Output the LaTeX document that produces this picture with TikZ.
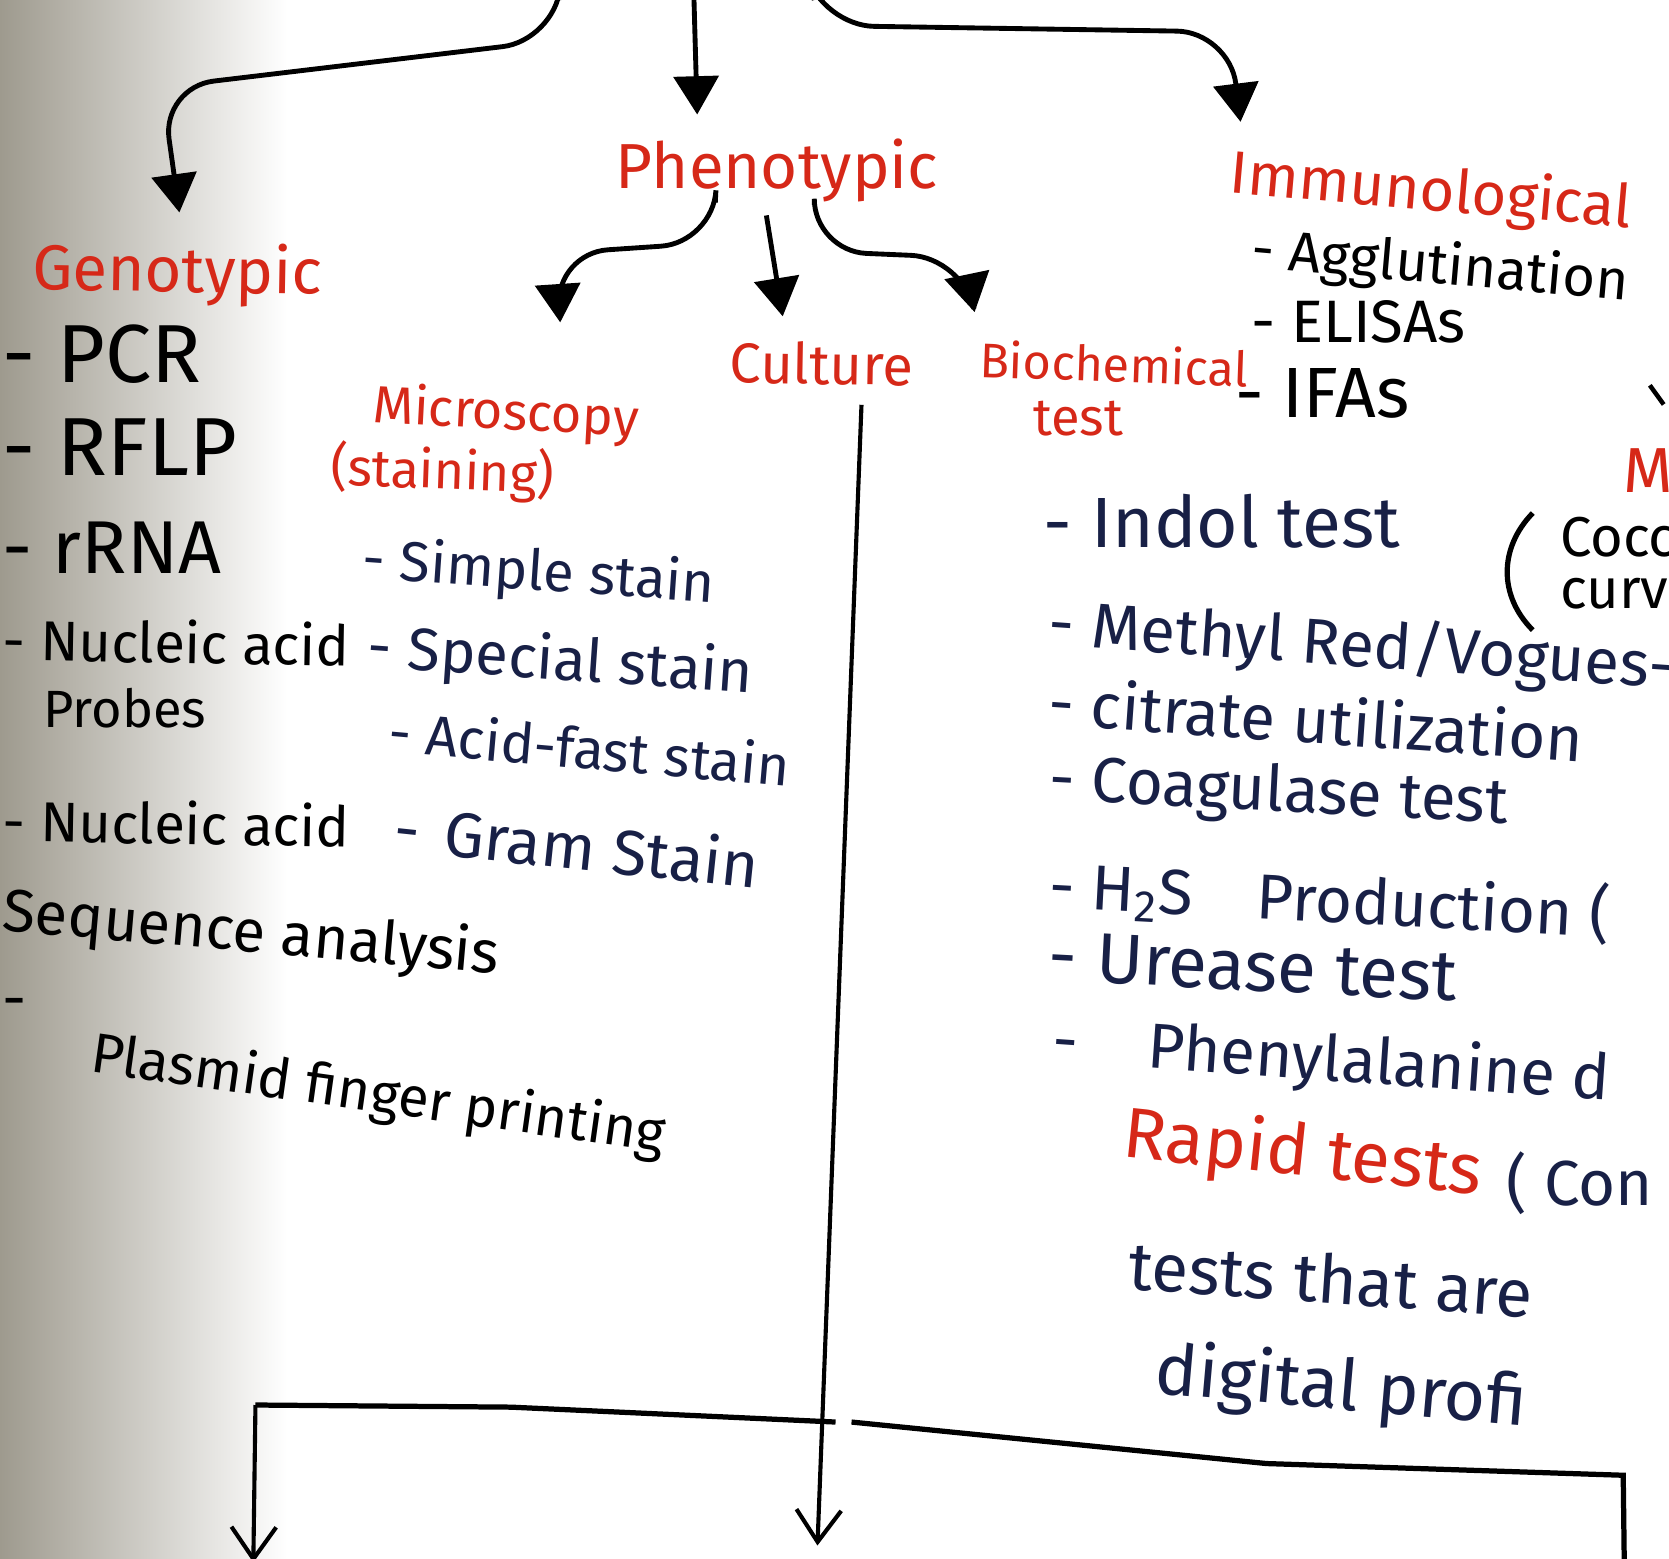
\documentclass[tikz,border=0pt]{standalone}
\usepackage{fontspec}
\setmainfont{Fira Sans}
\usetikzlibrary{arrows.meta,calc,positioning}

\definecolor{inkred}{RGB}{214,40,24}
\definecolor{inknavy}{RGB}{24,32,70}
\definecolor{paperedge}{RGB}{158,154,142}

\begin{document}
\begin{tikzpicture}[
    x=0.01cm, y=-0.01cm,
    every node/.style={inner sep=0pt, anchor=west},
    fs/.style={font=\fontsize{#1}{#1}\selectfont},
    head/.style={text=inkred},
    ink/.style={text=black},
    navy/.style={text=inknavy},
    bigarrow/.style={-{Triangle[width=0.42cm,length=0.36cm]}, line width=1.3pt, rounded corners=14pt},
    openarrow/.style={-{Straight Barb[width=0.42cm,length=0.3cm]}, line width=1.1pt}
]
    \useasboundingbox (0,0) rectangle (1568,1464);
    \clip (0,0) rectangle (1568,1464);
    % paper edge
    \shade[left color=paperedge, middle color=paperedge!30, right color=white] (0,0) rectangle (270,1464);

    % main branches
    \node[head, fs=17] (pheno) at (578,160) {Phenotypic};
    \node[head, fs=16, rotate=-5] (immu) at (1155,165) {Immunological};
    \node[head, fs=17, rotate=-1] (geno) at (30,255) {Genotypic};

    % phenotypic branches
    \node[head, fs=14, rotate=-3] (micro) at (350,383) {Microscopy};
    \node[head, fs=14, rotate=-2] (stain) at (310,440) {(staining)};
    \node[head, fs=15, rotate=-1] (cult) at (685,340) {Culture};
    \node[head, fs=13, rotate=-2] (bio) at (920,337) {Biochemical};
    \node[head, fs=14] (biotest) at (970,393) {test};

    % genotypic list
    \node[ink, fs=22] (pcr) at (2,333) {- PCR};
    \node[ink, fs=22] (rflp) at (2,420) {- RFLP};
    \node[ink, fs=20] (rrna) at (2,515) {- rRNA};
    \node[ink, fs=15, rotate=-1] (nap) at (2,600) {- Nucleic acid};
    \node[ink, fs=14] (probes) at (40,665) {Probes};
    \node[ink, fs=15, rotate=-1] (nas) at (2,770) {- Nucleic acid};
    \node[ink, fs=16, rotate=-5] (seq) at (2,858) {Sequence analysis};
    \node[ink, fs=16] (pdash) at (2,948) {-};
    \node[ink, fs=15, rotate=-8] (plas) at (85,992) {Plasmid finger printing};

    % microscopy list
    \node[navy, fs=15, rotate=-4] (simple) at (340,528) {- Simple stain};
    \node[navy, fs=16, rotate=-4] (special) at (345,610) {- Special stain};
    \node[navy, fs=15, rotate=-5] (acid) at (365,686) {- Acid-fast stain};
    \node[navy, fs=17, rotate=-6] (gram) at (370,776) {-\hspace{0.4em}Gram Stain};

    % immunological list
    \node[ink, fs=15, rotate=-5] (aggl) at (1175,236) {- Agglutination};
    \node[ink, fs=16] (elisa) at (1175,302) {- ELISAs};
    \node[ink, fs=19] (ifa) at (1160,370) {- IFAs};

    % biochemical list
    \node[navy, fs=19] (indol) at (980,490) {- Indol test};
    \node[navy, fs=17, rotate=-4] (mr) at (985,588) {- Methyl Red/Vogues-P};
    \node[navy, fs=17, rotate=-4] (citr) at (985,658) {- citrate utilization};
    \node[navy, fs=17, rotate=-3] (coag) at (985,735) {- Coagulase test};
    \node[navy, fs=17, rotate=-3] (h2s) at (985,832) {- H\textsubscript{2}S\quad Production (};
    \node[navy, fs=19, rotate=-3] (ure) at (985,898) {- Urease test};
    \node[navy, fs=17, rotate=-4] (phen) at (988,980) {-\hspace{1.1em}Phenylalanine d};
    \node[head, fs=19, rotate=-6] (rapid) at (1055,1068) {Rapid tests};
    \node[navy, fs=17] (con) at (1415,1112) {( Con};
    \node[navy, fs=18, rotate=-4] (tests) at (1060,1188) {tests that are};
    \node[navy, fs=19, rotate=-5] (digi) at (1085,1290) {digital profi};

    % right margin
    \node[head, fs=17] (mred) at (1525,442) {M};
    \node[ink, fs=15] (cocc) at (1465,505) {Cocc};
    \node[ink, fs=15] (curv) at (1465,558) {curv};
    \draw[line width=1.4pt] (1440,482) .. controls (1408,515) and (1408,560) .. (1440,592);
    \draw[line width=1.2pt] (1550,362) -- (1563,380);

    % top arrows
    \coordinate (topL) at (525,0);
    \coordinate (topM) at (652,0);
    \coordinate (topR) at (765,0);
    \draw[bigarrow] (topL) -- (521,38) -- (152,82) -- ($(geno.north west)+(138,-25)$);
    \draw[bigarrow] (topM) -- ($(pheno.north west)+(77,-22)$);
    \draw[bigarrow] (topR) -- (772,24) -- (1155,30) -- ($(immu.north west)+(8,-22)$);

    % phenotypic arrows
    \draw[bigarrow] ($(pheno.south west)+(94,0)$) -- (670,228) -- (522,238) -- ($(micro.north west)+(175,-55)$);
    \draw[bigarrow] ($(pheno.south west)+(142,12)$) -- ($(cult.north west)+(50,-22)$);
    \draw[bigarrow] ($(pheno.south west)+(187,2)$) -- (765,236) -- (905,242) -- ($(bio.north west)+(-5,-25)$);

    % culture line and bottom bracket
    \coordinate (cultEnd) at (768,1452);
    \draw[openarrow] ($(cult.south)+(38,18)$) -- (cultEnd);
    \coordinate (brTL) at (240,1320);
    \coordinate (brBL) at (238,1468);
    \coordinate (brTR) at (1525,1386);
    \coordinate (brBR) at (1526,1470);
    \draw[line width=1.4pt] (brTL) -- (480,1322) -- (785,1336);
    \draw[line width=1.4pt] (800,1336) -- (1190,1375) -- (brTR) -- (brBR);
    \draw[openarrow] (brTL) -- (brBL);
\end{tikzpicture}
\end{document}
